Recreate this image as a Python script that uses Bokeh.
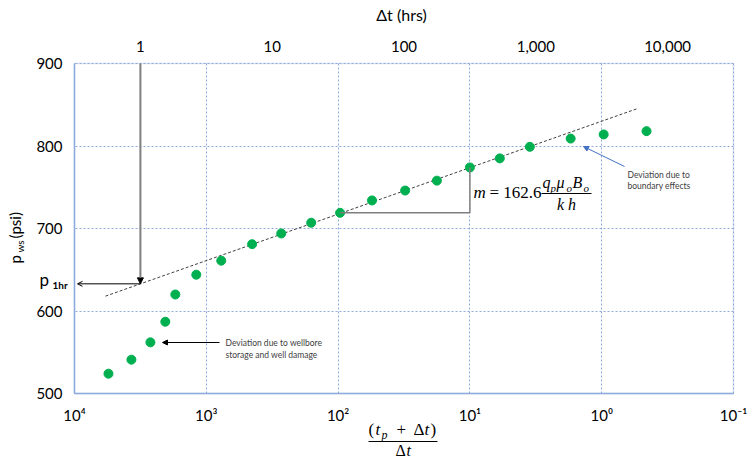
import math
from bokeh.plotting import figure
from bokeh.models import (Range1d, LinearAxis, LogAxis, LogScale, FixedTicker, CustomJSTickFormatter,
                          Label, Arrow, NormalHead, OpenHead, Grid, BoxAnnotation)
from bokeh.embed import file_html
from bokeh.resources import INLINE

# ---------------- data ----------------
horner_ratio = [5525, 3700, 2655, 2046, 1718, 1191, 770, 449, 270, 160,
                96.6, 55.3, 31.0, 17.8, 10.0, 5.93, 3.51, 1.72, 0.966, 0.457]
p_ws = [524, 541, 562, 587, 620, 644, 661, 681, 694, 707,
        719, 734, 746, 758, 774, 785, 799, 809, 814, 818]
trend_ratio = [5820, 0.543]
trend_p = [618, 845]
bottom_ticks = [1e4, 1e3, 1e2, 1e1, 1e0, 1e-1]
bottom_tick_labels = ["10⁴", "10³", "10²", "10¹", "10⁰", "10⁻¹"]
dt_ticks = [1, 10, 100, 1000, 10000]
dt_tick_labels = ["1", "10", "100", "1,000", "10,000"]
y_ticks = [500, 600, 700, 800, 900]
ratio_at_1hr = 3162.0   # Horner ratio at dt = 1 hr
slope_start_idx = 10
slope_end_idx = 14

# ---------------- layout geometry (pixels) ----------------
W, H = 750, 461
BOX_L, BOX_R, BOX_T, BOX_B = 74, 733, 63, 393
X_MAX, X_MIN = bottom_ticks[0], bottom_ticks[-1]
Y_MIN, Y_MAX = y_ticks[0], y_ticks[-1]
DEC_PX = (BOX_R - BOX_L) / (math.log10(X_MAX) - math.log10(X_MIN))
PSI_PX = (BOX_B - BOX_T) / (Y_MAX - Y_MIN)

def hx(px):
    return 10 ** (math.log10(X_MAX) - (px - BOX_L) / DEC_PX)

def vy(py):
    return Y_MAX - (py - BOX_T) / PSI_PX

BLUE = "#8FAADC"
GRID = "#8EAADB"

p = figure(width=W, height=H, x_axis_type="log",
           x_range=Range1d(hx(0), hx(W)), y_range=Range1d(vy(H), vy(0)),
           x_axis_location=None, y_axis_location=None,
           output_backend="svg", toolbar_location=None,
           min_border_left=0, min_border_right=0, min_border_top=0, min_border_bottom=0,
           background_fill_color="white", border_fill_color="white")
p.outline_line_color = None
p.center = [r for r in p.center if not isinstance(r, Grid)]

fmt_code = """
let best = 0, bd = Infinity;
for (let i = 0; i < tvals.length; i++) {
  const d = Math.abs(Math.log10(tick) - Math.log10(tvals[i]));
  if (d < bd) { bd = d; best = i; }
}
return tlabels[best];
"""

# grid
has_cross = "cross_bounds" in Grid.properties()
if has_cross:
    gx = Grid(dimension=0, ticker=FixedTicker(ticks=bottom_ticks), bounds=(X_MIN, X_MAX),
              cross_bounds=(Y_MIN, Y_MAX))
    gy = Grid(dimension=1, ticker=FixedTicker(ticks=y_ticks), bounds=(Y_MIN, Y_MAX),
              cross_bounds=(X_MIN, X_MAX))
    for g in (gx, gy):
        g.grid_line_color = GRID
        g.grid_line_dash = "2 2"
        g.grid_line_width = 1
        p.add_layout(g)
else:
    p.segment(x0=bottom_ticks, y0=[Y_MIN] * len(bottom_ticks), x1=bottom_ticks, y1=[Y_MAX] * len(bottom_ticks),
              line_color=GRID, line_dash="2 2", line_width=1)
    p.segment(x0=[X_MAX] * len(y_ticks), y0=y_ticks, x1=[X_MIN] * len(y_ticks), y1=y_ticks,
              line_color=GRID, line_dash="2 2", line_width=1)

# plot box
p.add_layout(BoxAnnotation(left=X_MAX, right=X_MIN, bottom=Y_MIN, top=Y_MAX,
                           fill_color=None, line_color=BLUE, line_width=1.5, level="underlay"))

# axes (real Bokeh axes pinned at the box edges)
xaxis = LogAxis(ticker=FixedTicker(ticks=bottom_ticks), fixed_location=Y_MIN, bounds=(X_MIN, X_MAX),
                formatter=CustomJSTickFormatter(args=dict(tvals=bottom_ticks, tlabels=bottom_tick_labels),
                                                code=fmt_code))
p.add_layout(xaxis, "below")
yaxis = LinearAxis(ticker=FixedTicker(ticks=y_ticks), fixed_location=X_MAX, bounds=(Y_MIN, Y_MAX))
p.add_layout(yaxis, "left")

p.extra_x_ranges = {"dt": Range1d(ratio_at_1hr / hx(0), ratio_at_1hr / hx(W))}
p.extra_x_scales = {"dt": LogScale()}
top = LogAxis(x_range_name="dt", ticker=FixedTicker(ticks=dt_ticks), fixed_location=Y_MAX,
              bounds=(ratio_at_1hr / X_MAX, ratio_at_1hr / X_MIN),
              formatter=CustomJSTickFormatter(args=dict(tvals=dt_ticks, tlabels=dt_tick_labels), code=fmt_code))
p.add_layout(top, "above")

for ax in (xaxis, yaxis, top):
    ax.major_tick_line_color = None
    ax.minor_tick_line_color = None
    ax.axis_line_color = BLUE
    ax.axis_line_width = 1.5
    ax.major_label_text_font = "Lato"
    ax.major_label_text_font_size = "15px"
    ax.major_label_text_color = "#000000"
    ax.major_label_standoff = 6
top.axis_line_color = None

# ---------------- marks ----------------
p.line(trend_ratio, trend_p, line_color="#404040", line_dash="3 2", line_width=1)
p.scatter(horner_ratio, p_ws, size=9, fill_color="#00B050", line_color="#00B050")

# slope triangle
tri_x = [horner_ratio[slope_start_idx], horner_ratio[slope_end_idx], horner_ratio[slope_end_idx]]
tri_y = [p_ws[slope_start_idx], p_ws[slope_start_idx], p_ws[slope_end_idx]]
p.line(tri_x, tri_y, line_color="#7F7F7F", line_width=1.5)

# p at 1 hr from the trend line
lx0, lx1 = math.log10(trend_ratio[0]), math.log10(trend_ratio[1])
p1hr = trend_p[0] + (math.log10(ratio_at_1hr) - lx0) / (lx1 - lx0) * (trend_p[1] - trend_p[0])

# ---------------- annotations ----------------
def txt(px, py, s, size, font="Lato", style="normal", color="#000000",
        align="left", baseline="middle", angle=0.0):
    p.add_layout(Label(x=hx(px), y=vy(py), text=s, text_font=font,
                       text_font_size=f"{size}px", text_font_style=style,
                       text_color=color, text_align=align, text_baseline=baseline,
                       angle=angle))

def seg(px0, py0, px1, py1, color="#000000", width=1.0):
    p.add_layout(Arrow(x_start=hx(px0), y_start=vy(py0), x_end=hx(px1), y_end=vy(py1),
                       start=None, end=None, line_color=color, line_width=width))

# vertical line at dt = 1 hr down to the trend line, then arrow to the axis
p.add_layout(Arrow(x_start=ratio_at_1hr, y_start=Y_MAX, x_end=ratio_at_1hr, y_end=p1hr,
                   line_color="#7F7F7F", line_width=2,
                   end=NormalHead(size=6, fill_color="#000000", line_color="#000000")))
p.add_layout(Arrow(x_start=ratio_at_1hr, y_start=p1hr, x_end=hx(77), y_end=p1hr,
                   line_color="#000000", line_width=1,
                   end=OpenHead(size=5, line_color="#000000", line_width=1)))

# wellbore storage annotation
p.add_layout(Arrow(x_start=hx(219), y_start=vy(342), x_end=hx(162), y_end=vy(342),
                   line_color="#000000", line_width=1,
                   end=NormalHead(size=5, fill_color="#000000", line_color="#000000")))
txt(225, 342, "Deviation due to wellbore", 8.5, color="#404040")
txt(225, 354, "storage and well damage", 8.5, color="#404040")

# boundary annotation
p.add_layout(Arrow(x_start=hx(624), y_start=vy(166), x_end=hx(583), y_end=vy(146),
                   line_color="#4472C4", line_width=1,
                   end=NormalHead(size=5, fill_color="#4472C4", line_color="#4472C4")))
txt(627, 174, "Deviation due to", 8.5, color="#404040")
txt(627, 185, "boundary effects", 8.5, color="#404040")

# slope equation
SERIF = "Liberation Serif"
txt(473, 192, "m", 17, font=SERIF, style="italic")
txt(489, 192, "= 162.6", 17, font=SERIF)
txt(542, 182, "q", 16, font=SERIF, style="italic")
txt(550, 187, "p", 11, font=SERIF, style="italic")
txt(556, 182, "μ", 16, font=SERIF, style="italic")
txt(566, 187, "o", 11, font=SERIF, style="italic")
txt(572, 182, "B", 16, font=SERIF, style="italic")
txt(583, 187, "o", 11, font=SERIF, style="italic")
seg(541, 193, 591, 193, width=1)
txt(566, 204, "k h", 16, font=SERIF, style="italic", align="center")

# x-axis title: (t_p + dt) / dt
txt(368, 429, "(", 17, font=SERIF)
txt(375, 429, "t", 17, font=SERIF, style="italic")
txt(381, 434, "p", 12, font=SERIF, style="italic")
txt(396, 429, "+", 17, font=SERIF)
txt(413, 429, "Δ", 17, font=SERIF)
txt(424, 429, "t", 17, font=SERIF, style="italic")
txt(430, 429, ")", 17, font=SERIF)
seg(368, 441, 437, 441, width=1)
txt(395, 450, "Δ", 16, font=SERIF)
txt(406, 450, "t", 16, font=SERIF, style="italic")

# top axis title
txt(401, 14, "Δt (hrs)", 16, align="center")

# y-axis title (rotated): p_ws (psi)
txt(14, 263, "p", 15, angle=math.pi / 2)
txt(19, 252, "ws", 10, angle=math.pi / 2)
txt(14, 238, "(psi)", 15, angle=math.pi / 2)

# p_1hr label
txt(39, 279, "p", 17)
txt(52, 284, "1hr", 10, style="bold")

open("out.html", "w").write(file_html(p, INLINE))
